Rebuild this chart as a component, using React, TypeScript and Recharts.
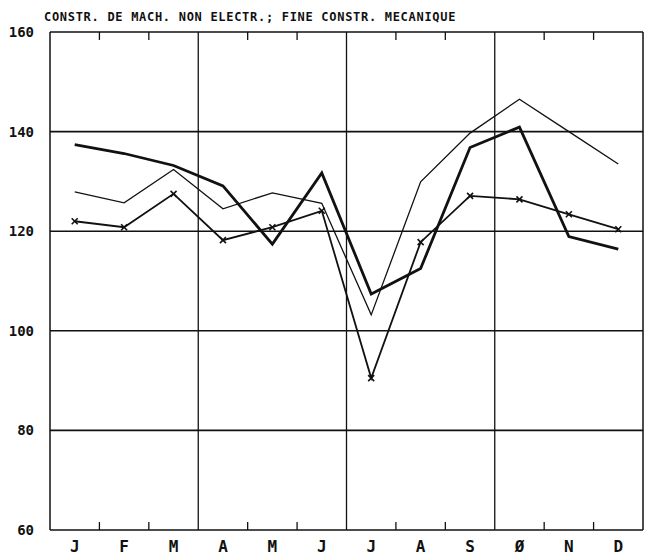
import React from 'react';
import { LineChart, Line, XAxis, YAxis, ReferenceLine } from 'recharts';

const months = ['J', 'F', 'M', 'A', 'M', 'J', 'J', 'A', 'S', 'Ø', 'N', 'D'];
const thickSeries = [137.4, 135.6, 133.2, 129.1, 117.4, 131.7, 107.4, 112.5, 136.8, 140.9, 118.9, 116.4];
const thinSeries = [127.9, 125.7, 132.4, 124.5, 127.7, 125.6, 103.2, 129.9, 139.7, 146.5, 140.0, 133.5];
const markSeries = [122.0, 120.8, 127.5, 118.2, 120.8, 124.1, 90.5, 117.8, 127.1, 126.4, 123.4, 120.4];
const yTicks = [60, 80, 100, 120, 140, 160];
const gridY = [80, 100, 120, 140];
const gridX = [3, 6, 9];
const minorX = [1, 2, 4, 5, 7, 8, 10, 11];
const title = 'CONSTR. DE MACH. NON ELECTR.; FINE CONSTR. MECANIQUE';

const data = months.map((m, i) => ({
  x: i + 0.5,
  month: m,
  thick: thickSeries[i],
  thin: thinSeries[i],
  mark: markSeries[i],
}));

const XDot = (props: any) => {
  const { cx, cy } = props;
  if (cx == null || cy == null) return null;
  const s = 3;
  return (
    <g stroke="#111" strokeWidth={1.6}>
      <line x1={cx - s} y1={cy - s} x2={cx + s} y2={cy + s} />
      <line x1={cx - s} y1={cy + s} x2={cx + s} y2={cy - s} />
    </g>
  );
};

const font = '"DejaVu Sans Mono", monospace';

export default function App() {
  return (
    <div style={{ position: 'absolute', left: 0, top: 0, width: 648, height: 555, background: '#fff' }}>
      <div
        style={{
          position: 'absolute',
          left: 44,
          top: 10,
          fontFamily: font,
          fontWeight: 'bold',
          fontSize: 12,
          letterSpacing: 0.7,
          color: '#111',
          whiteSpace: 'nowrap',
        }}
      >
        {title}
      </div>
      <LineChart
        width={648}
        height={555}
        data={data}
        margin={{ top: 32, right: 5, bottom: 0, left: 0 }}
      >
        <XAxis
          dataKey="x"
          type="number"
          domain={[0, 12]}
          ticks={data.map((d) => d.x)}
          tickFormatter={(v: number) => months[Math.floor(v)]}
          tickLine={false}
          axisLine={{ stroke: '#111', strokeWidth: 1.5 }}
          height={25}
          tick={{ fill: '#111', fontFamily: font, fontWeight: 'bold', fontSize: 16 }}
          tickMargin={5}
          allowDataOverflow
        />
        <YAxis
          type="number"
          domain={[60, 160]}
          ticks={yTicks}
          width={50}
          tickLine={false}
          axisLine={{ stroke: '#111', strokeWidth: 1.5 }}
          tick={{ fill: '#111', fontFamily: font, fontWeight: 'bold', fontSize: 14 }}
          tickMargin={10}
          allowDataOverflow
        />
        {gridY.map((y) => (
          <ReferenceLine key={'gy' + y} y={y} stroke="#111" strokeWidth={1.6} />
        ))}
        {gridX.map((x) => (
          <ReferenceLine key={'gx' + x} x={x} stroke="#111" strokeWidth={1.3} />
        ))}
        <ReferenceLine y={160} stroke="#111" strokeWidth={1.5} />
        <ReferenceLine x={12} stroke="#111" strokeWidth={1.5} />
        {minorX.map((x) => (
          <ReferenceLine
            key={'tb' + x}
            segment={[{ x, y: 60 }, { x, y: 61.6 }]}
            stroke="#111"
            strokeWidth={1.3}
          />
        ))}
        {minorX.map((x) => (
          <ReferenceLine
            key={'tt' + x}
            segment={[{ x, y: 160 }, { x, y: 158.4 }]}
            stroke="#111"
            strokeWidth={1.3}
          />
        ))}
        <Line
          dataKey="thin"
          stroke="#111"
          strokeWidth={1.3}
          dot={false}
          isAnimationActive={false}
          type="linear"
        />
        <Line
          dataKey="mark"
          stroke="#111"
          strokeWidth={1.8}
          dot={<XDot />}
          isAnimationActive={false}
          type="linear"
        />
        <Line
          dataKey="thick"
          stroke="#111"
          strokeWidth={2.8}
          dot={false}
          isAnimationActive={false}
          type="linear"
        />
      </LineChart>
    </div>
  );
}
